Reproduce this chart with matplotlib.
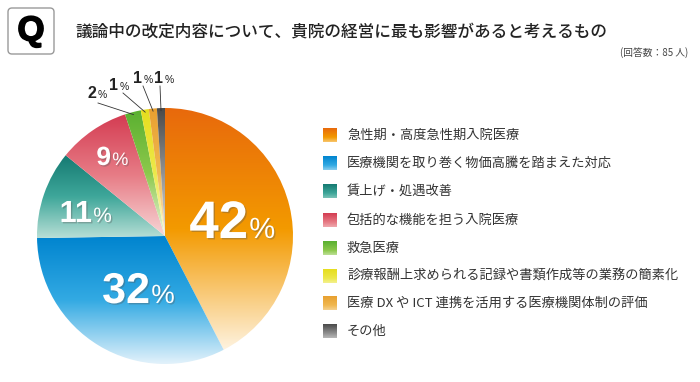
import matplotlib
matplotlib.use("Agg")
import matplotlib.pyplot as plt
import numpy as np
from matplotlib.colors import LinearSegmentedColormap
from matplotlib.patches import FancyBboxPatch
import matplotlib.patheffects as pe

plt.rcParams['font.family'] = ['Noto Sans CJK JP', 'DejaVu Sans']

title = "議論中の改定内容について、貴院の経営に最も影響があると考えるもの"
note = "(回答数：85 人)"
categories = [
    "急性期・高度急性期入院医療",
    "医療機関を取り巻く物価高騰を踏まえた対応",
    "賃上げ・処遇改善",
    "包括的な機能を担う入院医療",
    "救急医療",
    "診療報酬上求められる記録や書類作成等の業務の簡素化",
    "医療 DX や ICT 連携を活用する医療機関体制の評価",
    "その他",
]
values = [42, 32, 11, 9, 2, 1, 1, 1]
grads = [
    ['#FEF3E0', '#F39A00', '#E8690C'],
    ['#E3F2FB', '#33AAE3', '#0084CF'],
    ['#B8DFD6', '#3FA79A', '#157A72'],
    ['#F7D6D6', '#E77C86', '#D43C52'],
    ['#EEF6E4', '#8CC84B', '#5AB031'],
    ['#FAFAD8', '#EDE84A', '#E6DE1E'],
    ['#FBEBD0', '#F0B850', '#E8A030'],
    ['#E0E0E0', '#909090', '#4A4A4A'],
]

W, H = 700, 382
fig = plt.figure(figsize=(W / 100, H / 100), dpi=100)
fig.patch.set_facecolor('white')

# ---- pie ----
cx, cy, R = 165, 236, 128
ax = fig.add_axes([(cx - R) / W, 1 - (cy + R) / H, 2 * R / W, 2 * R / H])
cmaps = [LinearSegmentedColormap.from_list(f"g{i}", g) for i, g in enumerate(grads)]
wedges, _ = ax.pie(values, startangle=90, counterclock=False,
                   colors=['none'] * len(values), radius=1.0,
                   wedgeprops=dict(linewidth=0))
grad = np.linspace(0, 1, 256).reshape(-1, 1)
for w, cm in zip(wedges, cmaps):
    ext = w.get_path().get_extents()
    im = ax.imshow(grad, cmap=cm, origin='lower', aspect='auto',
                   extent=[-1, 1, ext.y0, ext.y1], interpolation='bicubic')
    im.set_clip_path(w)
ax.set_xlim(-1, 1)
ax.set_ylim(-1, 1)
ax.set_aspect('auto')
ax.axis('off')


def px2d(x, y):
    return (x - cx) / R, (cy - y) / R


shadow = [pe.SimplePatchShadow(offset=(1, -1), shadow_rgbFace='#555555', alpha=0.35), pe.Normal()]
# big labels: (boundary x, baseline y) in pixels, number size, % size
big = [(248, 238, 38, 21), (150, 303, 31, 19), (92, 222, 22, 15), (111, 165, 19, 13)]
for v, (bx, by, s1, s2) in zip(values[:4], big):
    dx, dy = px2d(bx, by)
    ax.text(dx, dy, f"{v}", ha='right', va='baseline', color='white', fontsize=s1,
            fontweight='bold', family='Liberation Sans', path_effects=shadow)
    ax.text(dx + 0.01, dy, "%", ha='left', va='baseline', color='white', fontsize=s2,
            family='Liberation Sans', path_effects=shadow)

# small labels with leader lines
small = [((96, 98), (98, 103)), ((118, 90), (123, 93)),
         ((142, 83), (143, 86)), ((163, 83), (160, 86))]
for v, w, ((bx, by), (lx, ly)) in zip(values[4:], wedges[4:], small):
    dx, dy = px2d(bx, by)
    ax.text(dx, dy, f"{v}", ha='right', va='baseline', color='#222222', fontsize=11.5,
            fontweight='bold', family='Liberation Sans')
    ax.text(dx + 0.01, dy, "%", ha='left', va='baseline', color='#222222', fontsize=7.5,
            family='Liberation Sans')
    th = np.deg2rad((w.theta1 + w.theta2) / 2)
    x0, y0 = px2d(lx, ly)
    ax.plot([x0, 0.98 * np.cos(th)], [y0, 0.98 * np.sin(th)], color='#333333',
            lw=0.6, clip_on=False)

# ---- overlay for header and legend ----
ov = fig.add_axes([0, 0, 1, 1])
ov.set_xlim(0, W)
ov.set_ylim(H, 0)
ov.axis('off')

ov.add_patch(FancyBboxPatch((8, 8), 46, 46, boxstyle="round,pad=0,rounding_size=4",
                            facecolor='white', edgecolor='#9A9A9A', lw=1.0))
ov.text(31, 31, "Q", ha='center', va='center', fontsize=25, fontweight='heavy',
        family='Liberation Sans', color='black',
        path_effects=[pe.withStroke(linewidth=1.2, foreground='black')])
ov.text(75, 31, title, ha='left', va='center', fontsize=12, fontweight='medium',
        color='#222222')
ov.text(688, 53, note, ha='right', va='center', fontsize=7, color='#444444')

row_y = [135, 163, 191, 220, 248, 276, 303, 331]
sq = np.linspace(0.25, 1, 64).reshape(-1, 1)
for lab, cm, yy in zip(categories, cmaps, row_y):
    ov.imshow(sq, cmap=cm, vmin=0, vmax=1, origin='lower', aspect='auto',
              extent=[323, 337, yy + 7, yy - 7], interpolation='bicubic')
    ov.text(347, yy, lab, ha='left', va='center', fontsize=9.5, color='#333333')
ov.set_xlim(0, W)
ov.set_ylim(H, 0)

fig.savefig("out.png", dpi=100, facecolor='white')
